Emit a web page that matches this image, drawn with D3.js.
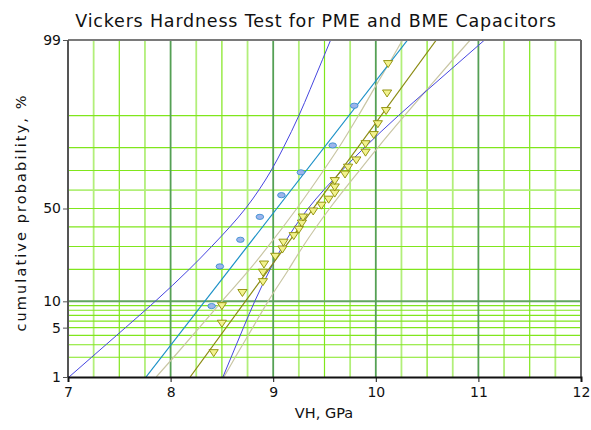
<!DOCTYPE html>
<html>
<head>
<meta charset="utf-8">
<script src="https://cdn.jsdelivr.net/npm/d3@7"></script>
<style>
  body { margin: 0; background: #fff; }
  text { font-family: "DejaVu Sans", Verdana, sans-serif; fill: #111; }
</style>
</head>
<body>
<div id="chart"></div>
<script>
// tick labels and grid
const xTicks = [7, 8, 9, 10, 11, 12];
const xGridMinor = [7.25, 7.5, 7.75, 8.25, 8.5, 8.75, 9.25, 9.5, 9.75, 10.25, 10.5, 10.75, 11.25, 11.5, 11.75];
const yTicks = [1, 5, 10, 50, 99];
const yGrid = [2, 3, 4, 5, 6, 7, 8, 9, 10, 20, 30, 40, 50, 60, 70, 80, 90];

// PME capacitors (circles)
const pmeVH = [8.40, 8.48, 8.68, 8.87, 9.08, 9.27, 9.58, 9.79];
const pmeProb = [8.9, 21.2, 33.3, 45.4, 57.3, 69.1, 80.8, 92.2];

// BME capacitors (triangles)
const bmeVH = [8.42, 8.50, 8.50, 8.70, 8.90, 8.90, 8.91, 9.02, 9.09, 9.10,
               9.20, 9.25, 9.28, 9.29, 9.39, 9.47, 9.54, 9.60, 9.60, 9.60,
               9.70, 9.73, 9.81, 9.90, 9.90, 9.98, 10.02, 10.10, 10.11, 10.12];
const bmeProb = [2.3, 5.6, 8.9, 12.2, 15.5, 18.8, 22.0, 25.3, 28.6, 31.9,
                 35.2, 38.5, 41.8, 45.1, 48.4, 51.6, 54.9, 58.2, 61.5, 64.8,
                 68.1, 71.4, 74.7, 78.0, 81.3, 84.5, 87.8, 91.1, 94.4, 97.7];

// fitted lines and confidence bounds, read at these probabilities
const lineProb = [1, 99];
const pmeFit = [7.76, 10.31];
const bmeFit = [8.19, 10.59];
const bandProb = [1, 2, 5, 10, 20, 30, 50, 70, 80, 90, 95, 98, 99];
const pmeLow = [7.01, 7.23, 7.56, 7.85, 8.18, 8.40, 8.73, 8.98, 9.10, 9.25, 9.36, 9.48, 9.56];
const pmeHigh = [8.51, 8.59, 8.71, 8.82, 8.97, 9.09, 9.34, 9.67, 9.89, 10.22, 10.51, 10.84, 11.06];
const bmeLow = [7.86, 8.03, 8.28, 8.50, 8.77, 8.95, 9.23, 9.49, 9.64, 9.83, 9.98, 10.15, 10.26];
const bmeHigh = [8.52, 8.63, 8.80, 8.95, 9.15, 9.29, 9.55, 9.84, 10.02, 10.28, 10.50, 10.75, 10.92];

const width = 591, height = 430;
const margin = { top: 40, right: 10, bottom: 53, left: 68 };
const innerW = 581 - margin.left;
const innerH = 377 - margin.top;

// inverse normal cdf for the probability axis
function probit(p) {
    const a = [-39.69683028665376, 220.9460984245205, -275.9285104469687, 138.3577518672690, -30.66479806614716, 2.506628277459239];
    const b = [-54.47609879822406, 161.5858368580409, -155.6989798598866, 66.80131188771972, -13.28068155288572];
    const c = [-0.007784894002430293, -0.3223964580411365, -2.400758277161838, -2.549732539343734, 4.374664141464968, 2.938163982698783];
    const d = [0.007784695709041462, 0.3224671290700398, 2.445134137142996, 3.754408661907416];
    const pl = 0.02425;
    let q, r;
    if (p < pl) {
        q = Math.sqrt(-2 * Math.log(p));
        return (((((c[0]*q+c[1])*q+c[2])*q+c[3])*q+c[4])*q+c[5]) / ((((d[0]*q+d[1])*q+d[2])*q+d[3])*q+1);
    } else if (p <= 1 - pl) {
        q = p - 0.5; r = q * q;
        return (((((a[0]*r+a[1])*r+a[2])*r+a[3])*r+a[4])*r+a[5])*q / (((((b[0]*r+b[1])*r+b[2])*r+b[3])*r+b[4])*r+1);
    }
    q = Math.sqrt(-2 * Math.log(1 - p));
    return -(((((c[0]*q+c[1])*q+c[2])*q+c[3])*q+c[4])*q+c[5]) / ((((d[0]*q+d[1])*q+d[2])*q+d[3])*q+1);
}

const xScale = d3.scaleLinear().domain([7, 12]).range([0, innerW]);
const zScale = d3.scaleLinear().domain([probit(0.01), probit(0.99)]).range([innerH, 0]);
const yScale = p => zScale(probit(p / 100));

const svg = d3.select("#chart").append("svg")
    .attr("width", width)
    .attr("height", height);

const g = svg.append("g")
    .attr("transform", `translate(${margin.left},${margin.top})`);

svg.append("defs").append("clipPath").attr("id", "plotClip")
    .append("rect").attr("width", innerW).attr("height", innerH);

// grid
xGridMinor.forEach(v => {
    const half = Math.abs(v % 1 - 0.5) < 0.01;
    g.append("line")
        .attr("x1", xScale(v)).attr("x2", xScale(v))
        .attr("y1", 0).attr("y2", innerH)
        .attr("stroke", half ? "#80e61c" : "#b2ef7a")
        .attr("stroke-width", half ? 1.2 : 1.8);
});
yGrid.forEach(p => {
    g.append("line")
        .attr("x1", 0).attr("x2", innerW)
        .attr("y1", yScale(p)).attr("y2", yScale(p))
        .attr("stroke", p === 10 ? "#62a462" : (p === 60 ? "#b2ef7a" : "#80e61c"))
        .attr("stroke-width", p === 10 ? 2 : (p === 60 ? 1.8 : 1.2));
});
xTicks.slice(1, -1).forEach(v => {
    g.append("line")
        .attr("x1", xScale(v)).attr("x2", xScale(v))
        .attr("y1", 0).attr("y2", innerH)
        .attr("stroke", "#55a055")
        .attr("stroke-width", 1.8);
});

// fit lines and bounds
const plot = g.append("g").attr("clip-path", "url(#plotClip)");
const curve = d3.line().x(d => xScale(d[0])).y(d => yScale(d[1])).curve(d3.curveMonotoneY);

const series = [
    { xs: bmeLow, ps: bandProb, color: "#c9c6a4", w: 1.2 },
    { xs: bmeHigh, ps: bandProb, color: "#c9c6a4", w: 1.2 },
    { xs: pmeLow, ps: bandProb, color: "#4646e0", w: 1 },
    { xs: pmeHigh, ps: bandProb, color: "#4646e0", w: 1 },
    { xs: pmeFit, ps: lineProb, color: "#1a90c6", w: 1.2 },
    { xs: bmeFit, ps: lineProb, color: "#8a8a10", w: 1.2 }
];
series.forEach(s => {
    plot.append("path")
        .datum(s.xs.map((x, i) => [x, s.ps[i]]))
        .attr("fill", "none")
        .attr("stroke", s.color)
        .attr("stroke-width", s.w)
        .attr("d", curve);
});

// markers
plot.selectAll("ellipse.pme")
    .data(pmeVH.map((v, i) => [v, pmeProb[i]]))
    .join("ellipse")
    .attr("class", "pme")
    .attr("cx", d => xScale(d[0]))
    .attr("cy", d => yScale(d[1]))
    .attr("rx", 3.8)
    .attr("ry", 2.6)
    .attr("fill", "#9db4ec")
    .attr("stroke", "#3b8fd0")
    .attr("stroke-width", 0.9);

plot.selectAll("path.bme")
    .data(bmeVH.map((v, i) => [v, bmeProb[i]]))
    .join("path")
    .attr("class", "bme")
    .attr("d", "M-4.6,-3.4L4.6,-3.4L0,3.6Z")
    .attr("transform", d => `translate(${xScale(d[0])},${yScale(d[1])})`)
    .attr("fill", "#f2f28e")
    .attr("stroke", "#8c8c00")
    .attr("stroke-width", 0.9);

// frame
g.append("line").attr("x1", 0).attr("x2", innerW).attr("y1", 0).attr("y2", 0)
    .attr("stroke", "#7a7a7a").attr("stroke-width", 2);
g.append("line").attr("x1", innerW).attr("x2", innerW).attr("y1", 0).attr("y2", innerH)
    .attr("stroke", "#666").attr("stroke-width", 2);
g.append("line").attr("x1", 0).attr("x2", 0).attr("y1", 0).attr("y2", innerH)
    .attr("stroke", "#555").attr("stroke-width", 2);

// bottom axis
const xAxis = g.append("g")
    .attr("transform", `translate(0,${innerH})`)
    .call(d3.axisBottom(xScale).tickValues(xTicks).tickFormat(d3.format("d")).tickSize(5));
xAxis.select(".domain").attr("stroke", "#111").attr("stroke-width", 2);
xAxis.selectAll(".tick line").attr("stroke", "#111");
xAxis.selectAll(".tick text").attr("font-size", 14).attr("dy", "0.85em");

// left axis
const yAxis = g.append("g")
    .call(d3.axisLeft(zScale).tickValues(yTicks.map(p => probit(p / 100)))
        .tickFormat((d, i) => yTicks[i]).tickSize(5));
yAxis.select(".domain").remove();
yAxis.selectAll(".tick line").attr("stroke", "#555");
yAxis.selectAll(".tick text").attr("font-size", 14).attr("x", -7);

// titles
svg.append("text")
    .attr("x", 316)
    .attr("y", 27)
    .attr("text-anchor", "middle")
    .attr("font-size", 17.5)
    .attr("letter-spacing", 0.8)
    .text("Vickers Hardness Test for PME and BME Capacitors");

svg.append("text")
    .attr("x", 324)
    .attr("y", 418)
    .attr("text-anchor", "middle")
    .attr("font-size", 14.5)
    .text("VH, GPa");

svg.append("text")
    .attr("transform", `translate(26,${(margin.top + 377) / 2 + 4}) rotate(-90)`)
    .attr("text-anchor", "middle")
    .attr("font-size", 14.5)
    .attr("letter-spacing", 2.1)
    .text("cumulative probability, %");
</script>
</body>
</html>
